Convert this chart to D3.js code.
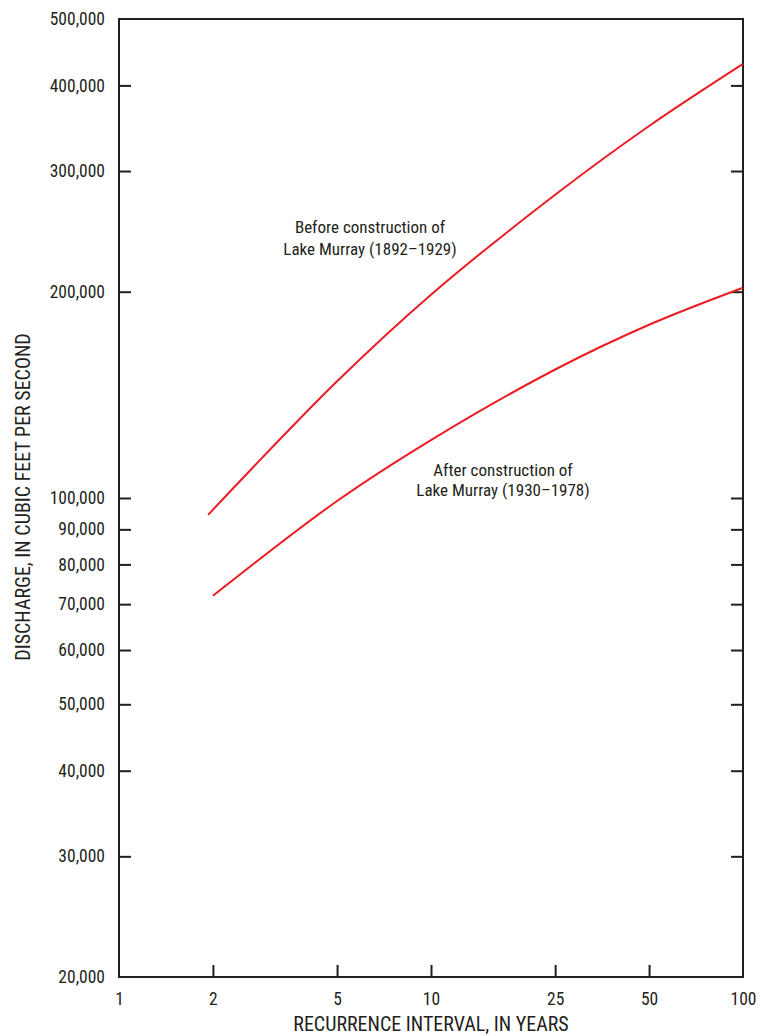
<!DOCTYPE html>
<html><head><meta charset="utf-8">
<script src="https://cdn.jsdelivr.net/npm/d3@7"></script>
<style>
html,body{margin:0;padding:0;background:#fff;}
svg text{font-family:"Liberation Sans Narrow","Roboto Condensed","Arial Narrow",sans-serif;fill:#231f20;}
</style></head>
<body>
<script>
// Data
const xTicks = [1, 2, 5, 10, 25, 50, 100];
const yTicks = [20000, 30000, 40000, 50000, 60000, 70000, 80000, 90000, 100000, 200000, 300000, 400000, 500000];
const beforeT = [1.93, 5, 10, 25, 50, 100];
const beforeQ = [94500, 148000, 198000, 277000, 349000, 430000];
const afterT = [2, 5, 10, 25, 50, 100];
const afterQ = [72000, 99000, 121500, 154000, 179000, 202700];
const beforeLabel = ["Before construction of", "Lake Murray (1892\u20131929)"];
const afterLabel = ["After construction of", "Lake Murray (1930\u20131978)"];

const W = 768, H = 1036;
const m = {left: 119, right: 25, top: 19, bottom: 59};
const svg = d3.select("body").append("svg").attr("width", W).attr("height", H);

const x = d3.scaleLog().domain([1, 100]).range([m.left, W - m.right]);
const y = d3.scaleLog().domain([20000, 500000]).range([H - m.bottom, m.top]);
const fmt = d3.format(",");
const ink = "#231f20";

// frame
svg.append("rect").attr("x", x(1)).attr("y", y(500000))
  .attr("width", x(100) - x(1)).attr("height", y(20000) - y(500000))
  .attr("fill", "none").attr("stroke", ink).attr("stroke-width", 2);

// left axis
const yl = svg.append("g").attr("transform", `translate(${x(1)},0)`)
  .call(d3.axisLeft(y).tickValues(yTicks).tickFormat(fmt).tickSizeInner(-12).tickSizeOuter(0).tickPadding(14));
yl.select(".domain").remove();
yl.selectAll("line").attr("stroke", ink).attr("stroke-width", 2);
yl.selectAll("text").style("font-size", "17.5px").attr("fill", ink);
yl.selectAll(".tick").filter(d => d === 20000 || d === 500000).select("line").remove();

// right axis
const yr = svg.append("g").attr("transform", `translate(${x(100)},0)`)
  .call(d3.axisRight(y).tickValues(yTicks).tickFormat("").tickSizeInner(-12).tickSizeOuter(0));
yr.select(".domain").remove();
yr.selectAll("line").attr("stroke", ink).attr("stroke-width", 2);
yr.selectAll(".tick").filter(d => d === 20000 || d === 500000).remove();

// bottom axis
const xb = svg.append("g").attr("transform", `translate(0,${y(20000)})`)
  .call(d3.axisBottom(x).tickValues(xTicks).tickFormat(d => String(d)).tickSizeInner(-12).tickSizeOuter(0).tickPadding(16));
xb.select(".domain").remove();
xb.selectAll("line").attr("stroke", ink).attr("stroke-width", 2);
xb.selectAll(".tick").filter(d => d === 1 || d === 100).select("line").remove();
xb.selectAll("text").style("font-size", "17.5px").attr("fill", ink);

// axis titles
svg.append("text").attr("x", 431).attr("y", 1031)
  .attr("text-anchor", "middle").style("font-size", "20px").text("RECURRENCE INTERVAL, IN YEARS");
svg.append("text").attr("transform", `translate(30,${497}) rotate(-90)`)
  .attr("text-anchor", "middle").style("font-size", "20px").text("DISCHARGE, IN CUBIC FEET PER SECOND");

// curves
const line = d3.line().x(d => x(d[0])).y(d => y(d[1])).curve(d3.curveCatmullRom.alpha(0.5));
const red = "#ed1c24";
svg.append("path").datum(beforeT.map((t, i) => [t, beforeQ[i]]))
  .attr("d", line).attr("fill", "none").attr("stroke", red).attr("stroke-width", 2);
svg.append("path").datum(afterT.map((t, i) => [t, afterQ[i]]))
  .attr("d", line).attr("fill", "none").attr("stroke", red).attr("stroke-width", 2);

// labels
function label(lines, cx, cy, gap) {
  const t = svg.append("text").attr("text-anchor", "middle").style("font-size", "17px");
  lines.forEach((s, i) => t.append("tspan").attr("x", cx).attr("y", cy + i * gap).text(s));
}
label(beforeLabel, 370, 233, 22);
label(afterLabel, 503, 476, 20);
</script>
</body></html>
